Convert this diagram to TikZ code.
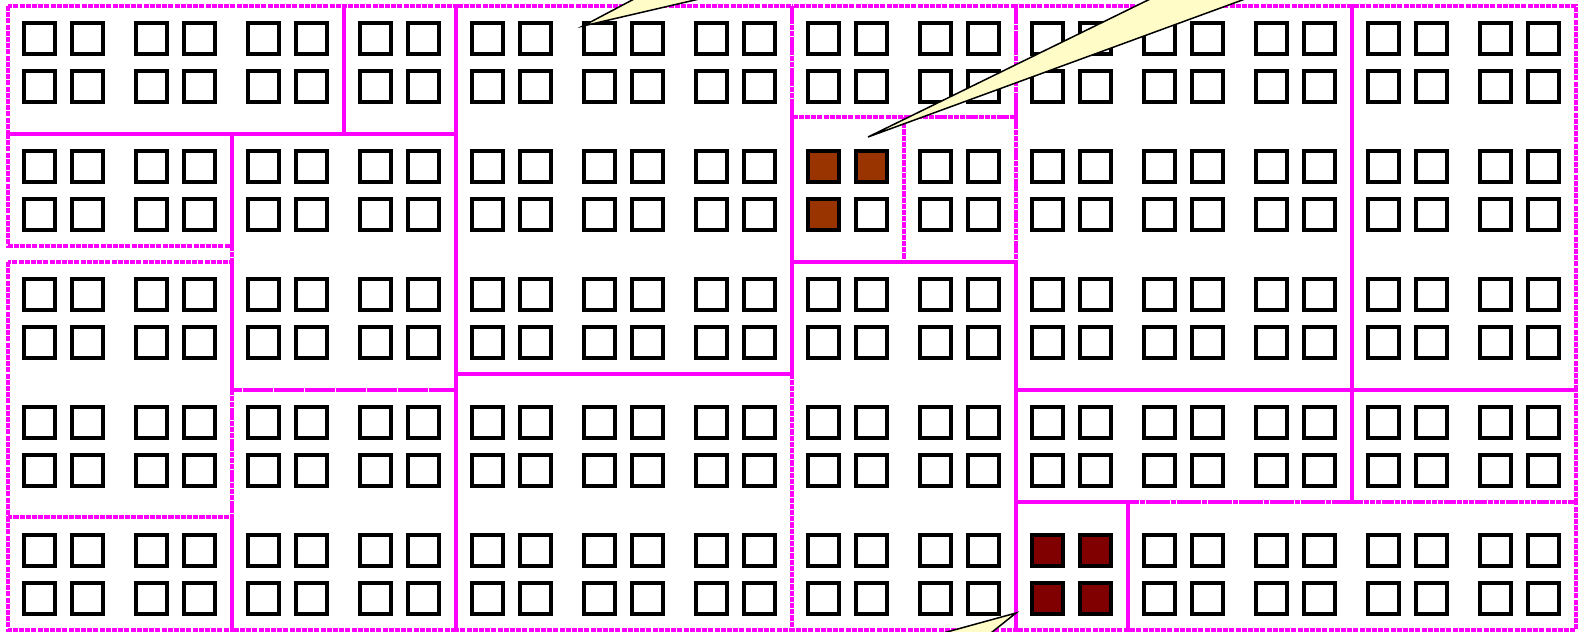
\documentclass[tikz,border=0pt]{standalone}
\definecolor{mag}{RGB}{255,0,255}
\definecolor{brownfill}{RGB}{153,51,0}
\definecolor{darkredfill}{RGB}{128,0,0}
\definecolor{tailfill}{RGB}{255,252,200}
\begin{document}
\begin{tikzpicture}[x=1pt,y=-1pt,
  sq/.style={draw=black,line width=4pt,fill=white},
  region/.style={draw=mag,line width=3.4pt,dash pattern=on 5pt off 1.2pt},
  tailshape/.style={draw=black,line width=1.5pt,fill=tailfill,line join=miter}]
\useasboundingbox (0,0) rectangle (1583,632);
% grid of 2x2 square blocks
\foreach \k in {0,...,13}{
  \foreach \j in {0,...,4}{
    \foreach \a in {0,48}{
      \foreach \b in {0,48}{
        \draw[sq] ({22+112*\k+\a+2},{21+128*\j+\b+2}) rectangle ++(31,31);
      }
    }
  }
}
% filled squares
\foreach \a/\b in {0/0,48/0,0/48}{
  \draw[sq,fill=brownfill] ({22+112*7+\a+2},{21+128*1+\b+2}) rectangle ++(31,31);
}
\foreach \a/\b in {0/0,48/0,0/48,48/48}{
  \draw[sq,fill=darkredfill] ({22+112*9+\a+2},{21+128*4+\b+2}) rectangle ++(31,31);
}
% regions
\draw[region] (8,6) rectangle (344,134);
\draw[region] (344,6) rectangle (456,134);
\draw[region] (8,134) rectangle (232,246);
\draw[region] (232,134) rectangle (456,390);
\draw[region] (8,262) rectangle (232,517);
\draw[region] (8,517) rectangle (232,630);
\draw[region] (232,390) rectangle (456,630);
\draw[region] (456,6) rectangle (792,374);
\draw[region] (456,374) rectangle (792,630);
\draw[region] (792,6) rectangle (1016,117);
\draw[region] (792,117) rectangle (904,262);
\draw[region] (904,117) rectangle (1016,262);
\draw[region] (792,262) rectangle (1016,630);
\draw[region] (1016,6) rectangle (1352,390);
\draw[region] (1352,6) rectangle (1576,390);
\draw[region] (1016,390) rectangle (1352,502);
\draw[region] (1352,390) rectangle (1576,502);
\draw[region] (1016,502) rectangle (1128,630);
\draw[region] (1128,502) rectangle (1576,630);
% callout tails
\coordinate (tipA) at (583,26);
\coordinate (tipB) at (868,137);
\coordinate (tipC) at (1016,613);
\begin{scope}
\clip (0,0) rectangle (1583,632);
\draw[tailshape] (tipA) -- (670,-20) -- (781,-20) -- cycle;
\draw[tailshape] (tipB) -- (1189,-20) -- (1297,-20) -- cycle;
\draw[tailshape] (tipC) -- (874,652) -- (967,652) -- cycle;
\end{scope}
\end{tikzpicture}
\end{document}
